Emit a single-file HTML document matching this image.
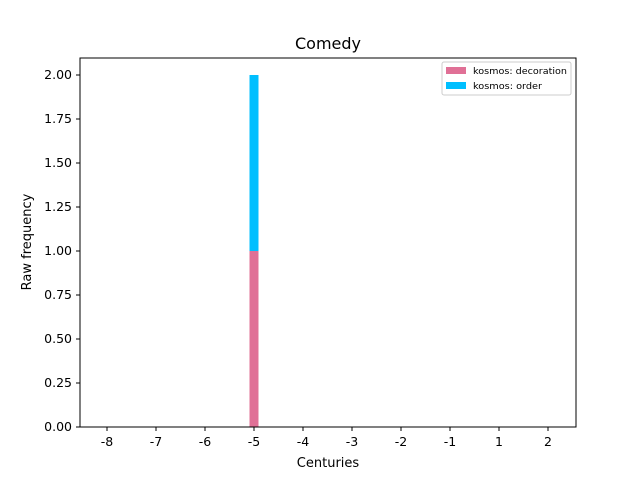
<!DOCTYPE html>
<html><head><meta charset="utf-8"><style>
body{margin:0;background:#fff;}
svg text{font-family:"DejaVu Sans","Liberation Sans",sans-serif;}
</style></head><body>
<svg id="chart" width="640" height="480" xmlns="http://www.w3.org/2000/svg">
<rect width="640" height="480" fill="#fff"/>
<text x="328" y="49" font-size="16" text-anchor="middle">Comedy</text>
<g id="bars"></g>
<rect x="80" y="58" width="496" height="369" fill="none" stroke="#000" stroke-width="1"/>
<g id="xticks"></g><g id="yticks"></g>
<text x="328" y="467" font-size="13" text-anchor="middle">Centuries</text>
<text x="31" y="242" font-size="13" text-anchor="middle" transform="rotate(-90 31 242)">Raw frequency</text>
<g>
<rect x="442" y="62" width="129" height="33" fill="#fff" stroke="#ccc" rx="2"/>
<rect x="446" y="67" width="20" height="7" fill="#e07096"/>
<text x="473" y="74" font-size="9" textLength="94" lengthAdjust="spacingAndGlyphs">kosmos: decoration</text>
<rect x="446" y="82" width="20" height="7" fill="#00bfff"/>
<text x="473" y="89" font-size="9" textLength="69" lengthAdjust="spacingAndGlyphs">kosmos: order</text>
</g>
</svg>
<script>
const categories=["-8","-7","-6","-5","-4","-3","-2","-1","1","2"];
const decoration=[0,0,0,1,0,0,0,0,0,0];
const order=[0,0,0,1,0,0,0,0,0,0];
const yTicks=[0,0.25,0.5,0.75,1.0,1.25,1.5,1.75,2.0];
const NS="http://www.w3.org/2000/svg";
const xs=i=>107+i*49;
const ys=v=>427-v*176;
const bars=document.getElementById('bars');
function mk(t,a){const e=document.createElementNS(NS,t);for(const k in a)e.setAttribute(k,a[k]);return e;}
categories.forEach((c,i)=>{
  if(decoration[i]>0){const r=mk('rect',{x:xs(i)-4.5,y:ys(decoration[i]),width:9,height:ys(0)-ys(decoration[i]),fill:'#e07096'});
  
  bars.appendChild(r);}
  if(order[i]>0){const b=decoration[i],t=b+order[i];const r=mk('rect',{x:xs(i)-4.5,y:ys(t),width:9,height:ys(b)-ys(t),fill:'#00bfff'});
  
  bars.appendChild(r);}
  const g=document.getElementById('xticks');
  g.appendChild(mk('line',{x1:xs(i),x2:xs(i),y1:427,y2:431,stroke:'#000'}));
  const t=mk('text',{x:xs(i),y:446,'font-size':12.5,'text-anchor':'middle'});t.textContent=c;
  
  g.appendChild(t);
});
yTicks.forEach(v=>{
  const g=document.getElementById('yticks');
  g.appendChild(mk('line',{x1:76,x2:80,y1:ys(v),y2:ys(v),stroke:'#000'}));
  const t=mk('text',{x:72,y:ys(v)+4,'font-size':12.5,'text-anchor':'end'});t.textContent=v.toFixed(2);
  
  g.appendChild(t);
});
</script>
</body></html>
